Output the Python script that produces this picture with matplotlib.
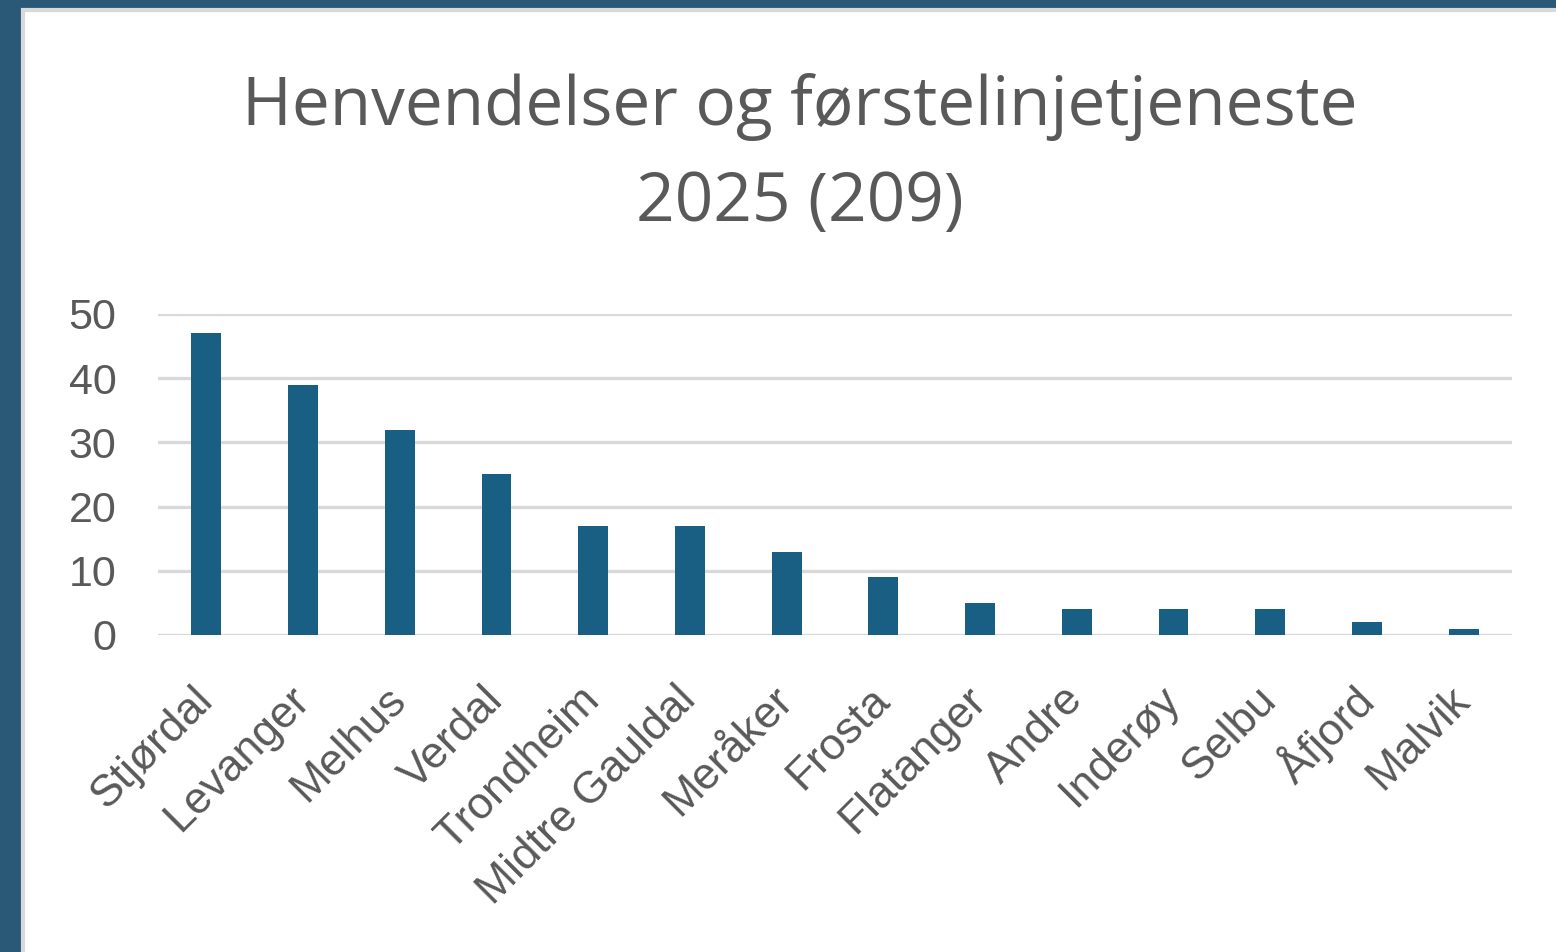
import numpy as np
import matplotlib
matplotlib.use('Agg')
import matplotlib.pyplot as plt
from matplotlib.patches import Rectangle

# data
kommuner = ['Stjørdal', 'Levanger', 'Melhus', 'Verdal', 'Trondheim', 'Midtre Gauldal',
            'Meråker', 'Frosta', 'Flatanger', 'Andre', 'Inderøy', 'Selbu', 'Åfjord', 'Malvik']
antall = [47, 39, 32, 25, 17, 17, 13, 9, 5, 4, 4, 4, 2, 1]
y_ticks = [0, 10, 20, 30, 40, 50]
title = 'Henvendelser og førstelinjetjeneste\n2025 (209)'

text_col = '#595959'
bar_col = '#185f83'
grid_col = '#d9d9d9'

fig = plt.figure(figsize=(15.56, 9.52), dpi=100)
fig.patch.set_facecolor('#2a5877')

# white chart panel
panel = Rectangle((23/1556, -0.05), 1.1, 1.05 - 10/952, transform=fig.transFigure,
                  facecolor='white', edgecolor=grid_col, linewidth=3, zorder=-10)
fig.patches.append(panel)

ax = fig.add_axes([158/1556, 1 - 635/952, (1512 - 158)/1556, (635 - 314)/952])
ax.set_facecolor('none')

x = np.arange(len(kommuner))
ax.bar(x, antall, width=0.31, color=bar_col, zorder=3)

ax.set_xlim(-0.5, len(kommuner) - 0.5)
ax.set_ylim(0, 50)
ax.set_yticks(y_ticks)
ax.yaxis.grid(True, color=grid_col, linewidth=2.4, zorder=0)
ax.set_axisbelow(True)
for s in ax.spines.values():
    s.set_visible(False)
ax.tick_params(length=0)
ax.tick_params(axis='y', labelsize=31, labelcolor=text_col, pad=30)
for lab in ax.get_yticklabels():
    lab.set_fontfamily('Liberation Sans')

ax.set_xticks(x)
ax.set_xticklabels(kommuner, rotation=45, ha='right', va='center', rotation_mode='anchor',
                   fontsize=32, color=text_col, family='Liberation Sans')
ax.tick_params(axis='x', pad=42)

fig.text(800/1556, 1 - 73/952, title, ha='center', va='top', fontsize=48.6,
         color=text_col, family='Open Sans', linespacing=1.55)

plt.savefig('out.png', dpi=100, facecolor=fig.get_facecolor())
